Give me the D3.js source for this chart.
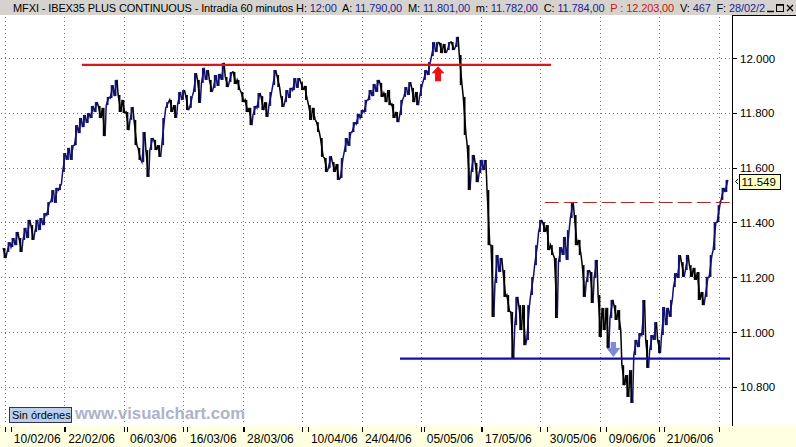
<!DOCTYPE html>
<html><head><meta charset="utf-8">
<script src="https://cdn.jsdelivr.net/npm/d3@7"></script>
<style>
body{margin:0;background:#fff}
svg{display:block}
text{font-family:"Liberation Sans",Arial,sans-serif}
</style>
</head><body>
<svg id="c" width="796" height="447"></svg>
<script>
// ---- data (60-minute bars, sampled) ----
const hi = [11306,11328,11343,11365,11343,11380,11409,11390,11409,11416,
11434,11474,11518,11526,11540,11653,11672,11682,11755,11781,
11792,11799,11825,11839,11825,11818,11858,11901,11920,11865,
11847,11803,11821,11774,11672,11730,11664,11708,11701,11682,
11781,11839,11847,11828,11876,11883,11865,11861,11945,11920,
11964,11956,11920,11938,11942,11982,11931,11949,11949,11920,
11876,11847,11818,11825,11872,11861,11839,11876,11956,11938,
11861,11883,11891,11927,11927,11912,11898,11828,11818,11766,
11708,11635,11642,11620,11613,11635,11708,11730,11766,11796,
11810,11847,11883,11905,11920,11909,11872,11883,11832,11803,
11847,11894,11912,11891,11876,11905,11956,11985,12058,12058,
12055,12051,12058,12058,12077,12011,11858,11682,11646,11617,
11628,11628,11518,11317,11281,11270,11226,11135,11073,11128,
11098,11098,11098,11201,11317,11409,11401,11390,11317,11270,
11310,11347,11372,11474,11427,11336,11244,11226,11219,11263,
11135,11088,11088,11117,11098,11080,10879,10843,10861,10971,
10996,11117,10971,10989,11036,10971,11091,11088,11117,11215,
11281,11255,11281,11244,11234,11219,11146,11201,11281,11401,
11463,11526,11555];
const lo = [11270,11292,11310,11317,11292,11336,11343,11336,11365,11372,
11390,11427,11474,11471,11518,11584,11628,11628,11682,11726,
11748,11763,11781,11803,11781,11715,11828,11854,11861,11803,
11799,11737,11774,11682,11628,11620,11566,11664,11664,11639,
11682,11818,11803,11781,11832,11847,11810,11818,11876,11836,
11909,11920,11876,11891,11898,11920,11894,11912,11905,11883,
11839,11803,11755,11792,11818,11810,11785,11825,11901,11894,
11821,11839,11854,11883,11891,11883,11847,11774,11774,11730,
11639,11584,11599,11584,11555,11562,11657,11679,11730,11759,
11781,11803,11847,11861,11876,11858,11839,11828,11781,11766,
11792,11858,11865,11839,11828,11861,11920,11938,12007,12022,
12018,12018,12029,12029,12040,11901,11719,11518,11584,11547,
11580,11591,11317,11055,11179,11219,11128,11073,10905,11025,
11007,10952,10971,11135,11244,11365,11365,11299,11281,11051,
11255,11281,11263,11416,11317,11281,11128,11182,11106,11197,
10982,11007,10942,11051,11044,11007,10806,10763,10741,10916,
10945,10989,10869,10934,10971,10923,10989,11025,11055,11164,
11197,11201,11226,11201,11190,11117,11098,11128,11201,11299,
11401,11482,11511];
const yTicks = [10800,11000,11200,11400,11600,11800,12000];
const yTickLabels = ["10.800","11.000","11.200","11.400","11.600","11.800","12.000"];
const dateLabels = ["10/02/06","22/02/06","06/03/06","16/03/06","28/03/06","10/04/06","24/04/06","05/05/06","17/05/06","30/05/06","09/06/06","21/06/06"];
const dateBars = [1.6,15.3,30.9,46,60.4,76.5,90.1,105.7,120.4,136.7,151.6,166.2];
const gridEvery = 15;
const lastPrice = 11549, lastLabel = "11.549";
const resistance = {price:11975, from:19.5, to:137.8};
const dashedLevel = {price:11474, from:136.2, to:182.9};
const support = {price:10903, from:99.7, to:182.9};
const upArrow = {bar:109.3, price:11975};
const downArrow = {bar:153.5, price:10903};
const header = [
 ["MFXI - IBEX35 PLUS CONTINUOUS - Intradía 60 minutos ","k"],["H: ","k"],["12:00","b"],
 ["  A: ","k"],["11.790,00","b"],["  M: ","k"],["11.801,00","b"],["  m: ","k"],["11.782,00","b"],
 ["  C: ","k"],["11.784,00","b"],["  ","k"],["P : 12.203,00","r"],["  V: ","k"],["467","b"],["  F: ","k"],["28/02/2","b"]
];

// ---- drawing ----
const svg = d3.select("#c");
const W = 796, H = 447;
const plotRight = 732, plotTop = 15, stripTop = 425;
const x = d3.scaleLinear().domain([0, 180]).range([4.5, 718.5]);
const y = d3.scaleLinear().domain([10800, 12000]).range([386.8, 58]);

svg.append("rect").attr("width",W).attr("height",H).attr("fill","#fff");
svg.append("rect").attr("x",0).attr("y",0).attr("width",W).attr("height",plotTop).attr("fill","#d6d3ce");

// grid
const grid = svg.append("g");
const gridBars = d3.range(0, hi.length, gridEvery);
grid.selectAll("line.v").data(gridBars).join("line")
  .attr("x1",d=>Math.round(x(d))+0.5).attr("x2",d=>Math.round(x(d))+0.5)
  .attr("y1",plotTop+2).attr("y2",stripTop)
  .attr("stroke","#7a7a7a").attr("stroke-dasharray","1,3");
grid.selectAll("line.h").data(yTicks).join("line")
  .attr("x1",1).attr("x2",plotRight-2)
  .attr("y1",d=>Math.round(y(d))+0.5).attr("y2",d=>Math.round(y(d))+0.5)
  .attr("stroke","#7a7a7a").attr("stroke-dasharray","1,3");

// series: zigzag through each sampled bar's range
svg.append("defs").append("clipPath").attr("id","pc")
  .append("rect").attr("x",0).attr("y",plotTop).attr("width",plotRight).attr("height",stripTop-plotTop);
const series = svg.append("g").attr("clip-path","url(#pc)");
const mid = hi.map((h,i)=>(h+lo[i])/2);
const up = i => i>0 && mid[i] > mid[i-1];
const colorOf = i => up(i) ? "#12126c" : "#000000";
const startV = i => up(i) ? lo[i] : hi[i];
const endV = i => up(i) ? hi[i] : lo[i];
const hw = 1.4;
series.selectAll("path.seg").data(d3.range(hi.length)).join("path")
  .attr("d", i => {
    const p = d3.path();
    if (i > 0) { p.moveTo(x(i-1)+hw, y(endV(i-1))); p.lineTo(x(i)-hw, y(startV(i))); }
    else p.moveTo(x(i)-hw, y(startV(i)));
    p.lineTo(x(i), y(mid[i]));
    p.lineTo(x(i)+hw, y(endV(i)));
    return p.toString();
  })
  .attr("fill","none").attr("stroke",i=>colorOf(i)).attr("stroke-width",1.5);
series.selectAll("rect.bar").data(d3.range(hi.length)).join("rect")
  .attr("x",i=>x(i)-0.9).attr("width",1.8)
  .attr("y",i=>y(hi[i])).attr("height",i=>Math.max(1, y(lo[i])-y(hi[i])))
  .attr("fill",i=>colorOf(i));

// annotations
svg.append("line").attr("x1",x(resistance.from)).attr("x2",x(resistance.to))
  .attr("y1",y(resistance.price)).attr("y2",y(resistance.price))
  .attr("stroke","#d41a1a").attr("stroke-width",2.2);
svg.append("line").attr("x1",x(dashedLevel.from)).attr("x2",x(dashedLevel.to))
  .attr("y1",Math.round(y(dashedLevel.price))+0.5).attr("y2",Math.round(y(dashedLevel.price))+0.5)
  .attr("stroke","#b52828").attr("stroke-width",1).attr("stroke-dasharray","14,5");
svg.append("line").attr("x1",x(support.from)).attr("x2",x(support.to))
  .attr("y1",y(support.price)).attr("y2",y(support.price))
  .attr("stroke","#1010a8").attr("stroke-width",2.2);
{
  const ax = x(upArrow.bar), ay = y(upArrow.price)+1.5;
  svg.append("path").attr("d",`M${ax},${ay} L${ax+6.5},${ay+7} L${ax+3},${ay+7} L${ax+3},${ay+15} L${ax-3},${ay+15} L${ax-3},${ay+7} L${ax-6.5},${ay+7} Z`)
    .attr("fill","#f01010");
}
{
  const ax = x(downArrow.bar), ay = y(downArrow.price)-1.5;
  svg.append("path").attr("d",`M${ax},${ay} L${ax+7},${ay-9} L${ax+2.7},${ay-9} L${ax+2.7},${ay-15} L${ax-2.7},${ay-15} L${ax-2.7},${ay-9} L${ax-7},${ay-9} Z`)
    .attr("fill","#7e8cd6");
}

// right axis panel
svg.append("line").attr("x1",plotRight+0.5).attr("x2",plotRight+0.5).attr("y1",plotTop).attr("y2",stripTop+2).attr("stroke","#000");
svg.append("line").attr("x1",plotRight).attr("x2",W).attr("y1",plotTop+0.5).attr("y2",plotTop+0.5).attr("stroke","#000");
const ya = svg.append("g");
ya.selectAll("line").data(yTicks).join("line")
  .attr("x1",plotRight).attr("x2",plotRight+5)
  .attr("y1",d=>Math.round(y(d))+0.5).attr("y2",d=>Math.round(y(d))+0.5).attr("stroke","#000");
ya.selectAll("text").data(yTicks).join("text")
  .attr("x",plotRight+8).attr("y",d=>y(d)+4.5)
  .attr("font-size","11.5px").attr("fill","#000")
  .text((d,i)=>yTickLabels[i]);
{
  const ly = y(lastPrice);
  svg.append("path").attr("d",`M${plotRight+6},${ly-2.5} L${plotRight+3.5},${ly} L${plotRight+6},${ly+2.5}`)
    .attr("fill","none").attr("stroke","#000").attr("stroke-width",1);
  svg.append("rect").attr("x",739.5).attr("y",Math.round(ly)-7.5).attr("width",41).attr("height",15)
    .attr("fill","#ffffc4").attr("stroke","#000");
  svg.append("text").attr("x",741.5).attr("y",ly+4.5).attr("font-size","11.5px").text(lastLabel);
}

// x strip
svg.append("rect").attr("x",0).attr("y",stripTop+1).attr("width",W).attr("height",H-stripTop-1).attr("fill","#ffffe1");
const xa = svg.append("g");
xa.selectAll("line.g").data(gridBars).join("line")
  .attr("x1",d=>Math.round(x(d))+0.5).attr("x2",d=>Math.round(x(d))+0.5)
  .attr("y1",stripTop+2).attr("y2",stripTop+7).attr("stroke","#000");
xa.selectAll("line.d").data(dateBars).join("line")
  .attr("x1",d=>Math.round(x(d))+0.5).attr("x2",d=>Math.round(x(d))+0.5)
  .attr("y1",stripTop+2).attr("y2",stripTop+7).attr("stroke","#000");
xa.selectAll("text").data(dateBars).join("text")
  .attr("x",d=>x(d)+3).attr("y",443).attr("font-size","12px").attr("fill","#000")
  .text((d,i)=>dateLabels[i]);

// watermark
svg.append("rect").attr("x",9.5).attr("y",407.5).attr("width",62).attr("height",15)
  .attr("fill","#bcd0ec").attr("stroke","#33334d");
svg.append("text").attr("x",12).attr("y",419).attr("font-size","11px").attr("fill","#000").text("Sin órdenes");
svg.append("text").attr("x",75).attr("y",419).attr("font-size","16px").attr("font-weight","bold")
  .attr("fill","#adb2c9").attr("textLength",170).attr("lengthAdjust","spacingAndGlyphs").text("www.visualchart.com");

// header text
const ht = svg.append("text").attr("x",13).attr("y",11.5).attr("font-size","11px")
  .style("white-space","pre").attr("textLength",752).attr("lengthAdjust","spacing");
const colors = {k:"#000", b:"#1d1d96", r:"#d01010"};
let charIdx = 0, pStart = 0, pEnd = 0;
header.forEach(([t,c])=>{
  if (c==="r") { pStart = charIdx; pEnd = charIdx + t.length - 1; }
  ht.append("tspan").attr("fill",colors[c]).text(t);
  charIdx += t.length;
});
try {
  const n = ht.node();
  const a = n.getExtentOfChar(pStart), b = n.getExtentOfChar(pEnd);
  svg.insert("rect", "text").attr("x",a.x-2).attr("y",1).attr("width",b.x+b.width-a.x+4).attr("height",13)
    .attr("fill","#f2d4d4");
} catch(e) {}
const wb = svg.append("g").attr("stroke","#000").attr("fill","none");
wb.append("line").attr("x1",767).attr("x2",774).attr("y1",11.5).attr("y2",11.5).attr("stroke-width",1.5);
wb.append("rect").attr("x",776.5).attr("y",4.5).attr("width",7).attr("height",7);
wb.append("line").attr("x1",776.5).attr("x2",783.5).attr("y1",5).attr("y2",5).attr("stroke-width",1.5);
wb.append("path").attr("d","M787,5 L793,11 M793,5 L787,11").attr("stroke-width",1.3);
</script>
</body></html>
